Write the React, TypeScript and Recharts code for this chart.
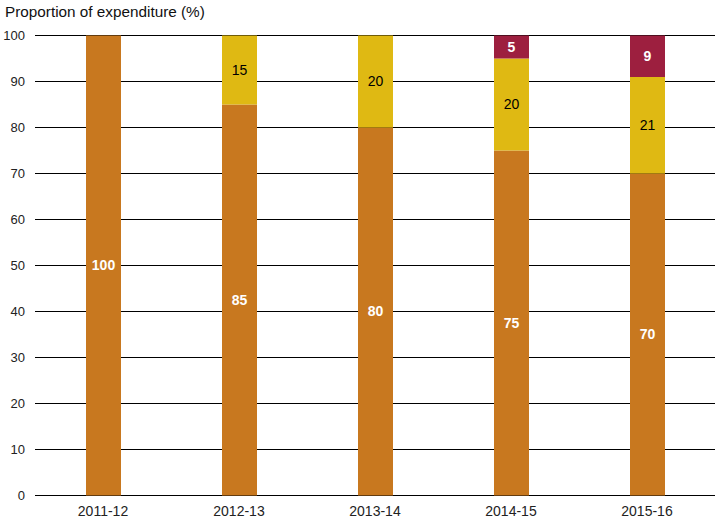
import { BarChart, Bar, XAxis, YAxis, CartesianGrid, LabelList } from "recharts";

const years = ["2011-12", "2012-13", "2013-14", "2014-15", "2015-16"];
const base = [100, 85, 80, 75, 70];
const middle = [null, 15, 20, 20, 21];
const top = [null, null, null, 5, 9];
const yTicks = [0, 10, 20, 30, 40, 50, 60, 70, 80, 90, 100];

const data = years.map((year, i) => ({
  year,
  base: base[i],
  middle: middle[i],
  top: top[i],
}));

const font = "'Liberation Sans', Arial, sans-serif";

export default function App() {
  return (
    <div style={{ position: "absolute", left: 0, top: 0, width: 722, height: 523, fontFamily: font, background: "#fff" }}>
      <div style={{ position: "absolute", left: 5, top: 3, fontSize: 15.3, color: "#111" }}>
        Proportion of expenditure (%)
      </div>
      <BarChart
        width={722}
        height={523}
        data={data}
        margin={{ top: 35.5, right: 7, bottom: 0, left: 0 }}
        barSize={35}
      >
        <CartesianGrid horizontal vertical={false} stroke="#000" strokeOpacity={1} />
        <XAxis
          dataKey="year"
          axisLine={false}
          tickLine={false}
          height={27.5}
          tickMargin={5}
          tick={{ fill: "#222", fontSize: 14, fontFamily: font }}
        />
        <YAxis
          domain={[0, 100]}
          ticks={yTicks}
          width={35}
          axisLine={false}
          tickLine={false}
          tickMargin={4}
          tick={{ fill: "#222", fontSize: 13, fontFamily: font }}
        />
        <Bar dataKey="base" stackId="a" fill="#C8781F" isAnimationActive={false}>
          <LabelList dataKey="base" position="center" fill="#fff" fontSize={14} fontWeight="bold" fontFamily={font} />
        </Bar>
        <Bar dataKey="middle" stackId="a" fill="#DFB913" isAnimationActive={false}>
          <LabelList dataKey="middle" position="center" fill="#000" fontSize={14} fontFamily={font} />
        </Bar>
        <Bar dataKey="top" stackId="a" fill="#9D1F3F" isAnimationActive={false}>
          <LabelList dataKey="top" position="center" fill="#fff" fontSize={14} fontWeight="bold" fontFamily={font} />
        </Bar>
      </BarChart>
    </div>
  );
}
